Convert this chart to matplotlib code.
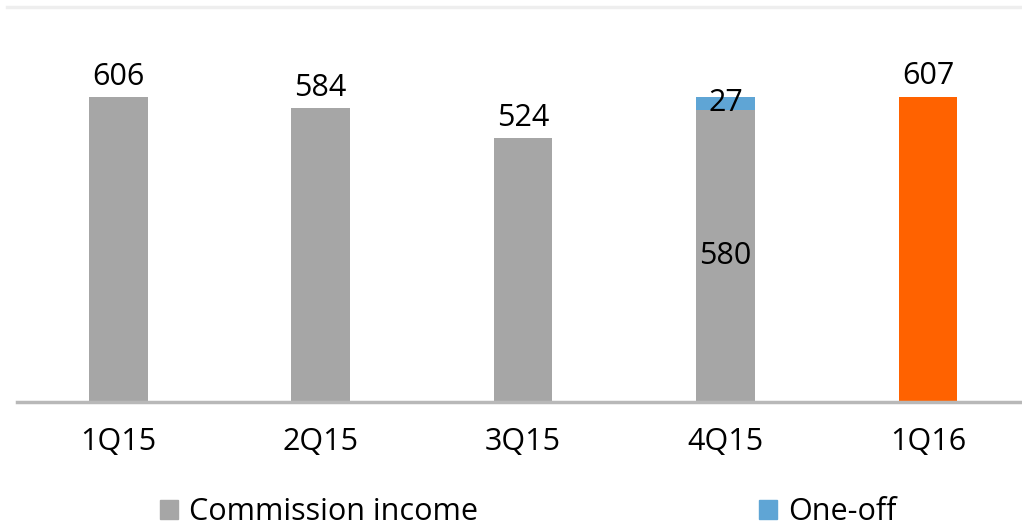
import numpy as np
import matplotlib
matplotlib.use("Agg")
import matplotlib.pyplot as plt
from matplotlib.patches import Rectangle
from matplotlib.lines import Line2D

quarters = ['1Q15', '2Q15', '3Q15', '4Q15', '1Q16']
commission = [606, 584, 524, 580, 607]
one_off = [0, 0, 0, 27, 0]

GREY = '#a6a6a6'
BLUE = '#5fa5d5'
ORANGE = '#ff6200'

plt.rcParams['font.family'] = ['Open Sans', 'DejaVu Sans']

fig = plt.figure(figsize=(10.22, 5.29), dpi=100)
W, H = 1022, 529
ax = fig.add_axes([17 / W, 1 - 402 / H, (1022 - 17) / W, (402 - 7) / H])

x = np.arange(len(quarters))
colors = [GREY] * 4 + [ORANGE]
ax.bar(x, commission, width=0.29, color=colors, zorder=2)
ax.bar(x, one_off, bottom=commission, width=0.29, color=BLUE, zorder=2)

for i, (c, o) in enumerate(zip(commission, one_off)):
    if o:
        ax.text(i, c / 2, str(c), ha='center', va='center', fontsize=22)
        ax.text(i, c + o / 2, str(o), ha='center', va='center', fontsize=22)
    else:
        ax.text(i, c + 40, str(c), ha='center', va='center', fontsize=22)

ax.set_xlim(-0.5, 4.465)
ax.set_ylim(0, 785)
ax.set_xticks(x)
ax.set_xticklabels(quarters, fontsize=22)
ax.tick_params(axis='x', length=0, pad=18)
ax.set_yticks([])
for s in ['top', 'right', 'left']:
    ax.spines[s].set_visible(False)
ax.spines['bottom'].set_color('#b8b8b8')
ax.spines['bottom'].set_linewidth(2.5)

# thin rule across the top
fig.add_artist(Line2D([7 / W, 1], [1 - 7 / H, 1 - 7 / H], color='#eeeeee', lw=2.5))

handles = [Rectangle((0, 0), 1, 1, color=GREY), Rectangle((0, 0), 1, 1, color=BLUE)]
leg = fig.legend(handles, ['Commission income', 'One-off'], loc='center left',
                 bbox_to_anchor=(160 / W, 1 - 512 / H), ncol=2, frameon=False,
                 fontsize=22, handlelength=0.6, handleheight=0.6,
                 handletextpad=0.35, columnspacing=9.2, borderpad=0,
                 borderaxespad=0)

fig.savefig('out.png', dpi=100)
